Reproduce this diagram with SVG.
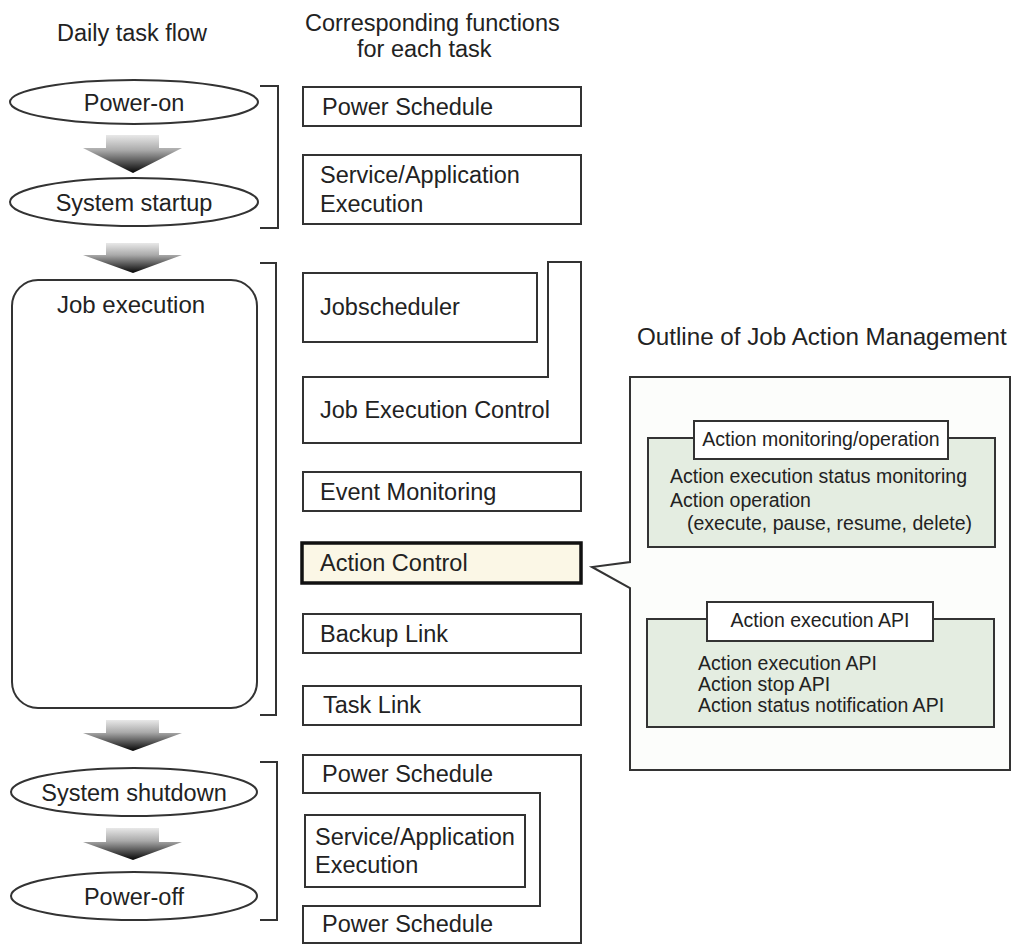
<svg xmlns="http://www.w3.org/2000/svg" width="1015" height="945" viewBox="0 0 1015 945">
<defs>
<linearGradient id="arrowGrad" x1="0" y1="0" x2="0" y2="1">
<stop offset="0" stop-color="#e8e8e8"/>
<stop offset="0.4" stop-color="#aaaaaa"/>
<stop offset="1" stop-color="#050505"/>
</linearGradient>
<style>
text{font-family:"Liberation Sans",Arial,sans-serif;fill:#222;}
.t{font-size:23.5px;}
.s{font-size:19.5px;}
.c{text-anchor:middle;}
.box{fill:#fff;stroke:#333;stroke-width:2;}
.ell{fill:#fff;stroke:#333;stroke-width:2;}
.br{fill:none;stroke:#333;stroke-width:2;}
.grn{fill:#e4ede1;stroke:#333;stroke-width:2;}
.arr{fill:url(#arrowGrad);stroke:none;}
</style>
</defs>
<rect width="1015" height="945" fill="#fff"/>

<g id="headers">
<text class="t c" x="132" y="41">Daily task flow</text>
<text class="t" x="305" y="31">Corresponding functions</text>
<text class="t" x="357" y="57">for each task</text>
</g>

<g id="connectors">
<path class="arr" d="M106,135 H159 V148 H182 L133,173 L83,148 H106 Z"/>
<path class="arr" d="M106,243 H159 V255 H182 L133,273 L83,255 H106 Z"/>
<path class="arr" d="M106,720 H159 V733 H182 L133,751 L83,733 H106 Z"/>
<path class="arr" d="M106,828 H159 V842 H182 L133,860 L83,842 H106 Z"/>
<path class="br" d="M260,86 H278 V228 H260"/>
<path class="br" d="M260,263 H276 V715 H260"/>
<path class="br" d="M260,762 H277 V920 H260"/>
</g>

<g id="power-on">
<ellipse class="ell" cx="134" cy="102" rx="124" ry="22"/>
<text class="t c" x="134" y="111">Power-on</text>
</g>
<g id="system-startup">
<ellipse class="ell" cx="134" cy="202" rx="124" ry="24"/>
<text class="t c" x="134" y="211">System startup</text>
</g>
<g id="job-execution">
<rect class="box" x="12" y="280" width="245" height="428" rx="26"/>
<text class="t" x="57" y="313" style="font-size:24px">Job execution</text>
</g>
<g id="system-shutdown">
<ellipse class="ell" cx="134" cy="792" rx="123" ry="24"/>
<text class="t c" x="134" y="801">System shutdown</text>
</g>
<g id="power-off">
<ellipse class="ell" cx="134" cy="896" rx="123" ry="24"/>
<text class="t c" x="134" y="905">Power-off</text>
</g>

<g id="power-schedule-1">
<rect class="box" x="303" y="87" width="278" height="39"/>
<text class="t" x="322" y="115">Power Schedule</text>
</g>
<g id="service-app-1">
<rect class="box" x="303" y="155" width="278" height="69"/>
<text class="t" x="320" y="183">Service/Application</text>
<text class="t" x="320" y="212">Execution</text>
</g>
<g id="jobscheduler">
<rect class="box" x="303" y="273" width="234" height="69"/>
<text class="t" x="320" y="315">Jobscheduler</text>
</g>
<g id="job-execution-control">
<path class="box" d="M548,262 H581 V443 H303 V377 H548 Z"/>
<text class="t" x="320" y="418">Job Execution Control</text>
</g>
<g id="event-monitoring">
<rect class="box" x="303" y="472" width="278" height="39"/>
<text class="t" x="320" y="500">Event Monitoring</text>
</g>
<g id="action-control">
<rect x="302" y="543" width="279" height="40" fill="#fbf7e6" stroke="#111" stroke-width="3.5"/>
<text class="t" x="320" y="571">Action Control</text>
</g>
<g id="backup-link">
<rect class="box" x="303" y="614" width="278" height="39"/>
<text class="t" x="320" y="642">Backup Link</text>
</g>
<g id="task-link">
<rect class="box" x="303" y="686" width="278" height="39"/>
<text class="t" x="323" y="713">Task Link</text>
</g>
<g id="power-schedule-2">
<path class="box" d="M303,755 H581 V943 H303 V906 H540 V793 H303 Z"/>
<text class="t" x="322" y="782">Power Schedule</text>
<text class="t" x="322" y="932">Power Schedule</text>
</g>
<g id="service-app-2">
<rect class="box" x="305" y="815" width="220" height="72"/>
<text class="t" x="315" y="845">Service/Application</text>
<text class="t" x="315" y="873">Execution</text>
</g>

<g id="outline-callout">
<text class="t" x="637" y="345" style="font-size:24.2px">Outline of Job Action Management</text>
<path d="M630,377 H1010 V770 H630 V588 L592,567 L630,562 Z" fill="#fcfdfb" stroke="#333" stroke-width="2"/>
</g>
<g id="action-monitoring">
<rect class="grn" x="648" y="438" width="347" height="109"/>
<rect class="box" x="694" y="421" width="254" height="38"/>
<text class="s c" x="821" y="446">Action monitoring/operation</text>
<text class="s" x="670" y="483">Action execution status monitoring</text>
<text class="s" x="670" y="507">Action operation</text>
<text class="s" x="687" y="530">(execute, pause, resume, delete)</text>
</g>
<g id="action-api">
<rect class="grn" x="647" y="619" width="347" height="108"/>
<rect class="box" x="707" y="602" width="226" height="39"/>
<text class="s c" x="820" y="627">Action execution API</text>
<text class="s" x="698" y="670">Action execution API</text>
<text class="s" x="698" y="691">Action stop API</text>
<text class="s" x="698" y="712">Action status notification API</text>
</g>
</svg>
